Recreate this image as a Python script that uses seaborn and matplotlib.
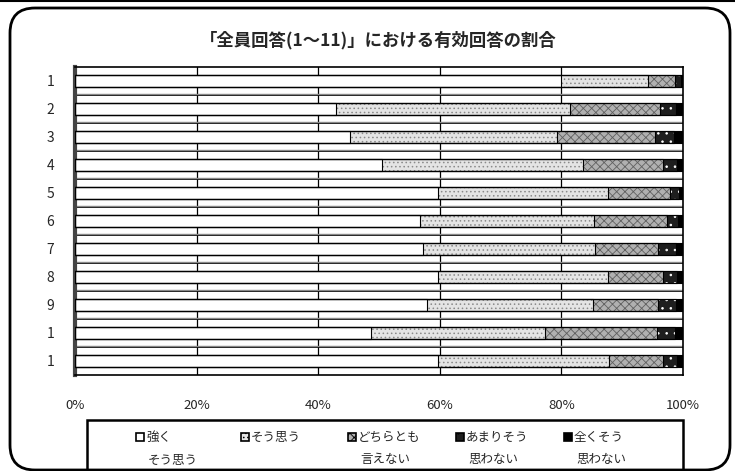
import numpy as np
import pandas as pd
import seaborn as sns
import matplotlib.pyplot as plt
from matplotlib.patches import Rectangle, FancyBboxPatch
from matplotlib.transforms import IdentityTransform

# data (percent of valid answers per question)
questions = ['1', '2', '3', '4', '5', '6', '7', '8', '9', '1', '1']
categories = ['強く\nそう思う', 'そう思う', 'どちらとも\n言えない', 'あまりそう\n思わない', '全くそう\n思わない']
strongly_agree = [80.0, 43.0, 45.2, 50.5, 59.7, 56.7, 57.2, 59.7, 57.9, 48.7, 59.7]
agree = [14.2, 38.4, 34.1, 33.0, 27.9, 28.7, 28.3, 28.0, 27.3, 28.6, 28.1]
neutral = [4.5, 14.8, 16.1, 13.2, 10.2, 12.0, 10.4, 9.0, 10.7, 18.4, 8.9]
disagree = [0.9, 2.6, 3.2, 2.3, 1.5, 1.8, 2.9, 2.3, 2.9, 3.0, 2.3]
strongly_disagree = [0.4, 1.2, 1.4, 1.0, 0.7, 0.8, 1.2, 1.0, 1.2, 1.3, 1.0]
ticks = [0, 20, 40, 60, 80, 100]

# fill, hatch, hatch colour per category
styles = [('white', '', 'white'),
          ('#e4e4e4', '....', '#8a8a8a'),
          ('#b0b0b0', 'xxxx', '#606060'),
          ('#1e1e1e', '..', 'white'),
          ('black', '', 'black')]

df = pd.DataFrame({'row': range(len(questions))})
vals = np.array([strongly_agree, agree, neutral, disagree, strongly_disagree])
cum = np.cumsum(vals, axis=0)
for k in range(len(categories)):
    df[f'c{k}'] = cum[k]

sns.set_style('white')
plt.rcParams['font.family'] = ['Noto Sans CJK JP', 'DejaVu Sans']
plt.rcParams['hatch.linewidth'] = 0.6

fig = plt.figure(figsize=(7.35, 4.71), dpi=100)
ax = fig.add_axes([75 / 735, 1 - 375 / 471, 608 / 735, 308 / 471])

bw = 0.45
# overlay cumulative bars, widest first
for k in reversed(range(len(categories))):
    face, hatch, hc = styles[k]
    n0 = len(ax.patches)
    sns.barplot(data=df, x=f'c{k}', y='row', orient='h', color=face, saturation=1,
                width=bw, linewidth=0, ax=ax, zorder=3)
    for p in ax.patches[n0:]:
        p.set_hatch(hatch)
        p.set_edgecolor(hc)
        p.set_linewidth(0)

# segment outlines
for k in range(len(categories)):
    sns.barplot(data=df, x=f'c{k}', y='row', orient='h', fill=False, color='black',
                width=bw, linewidth=0.8, ax=ax, zorder=4)

for x in ticks[1:-1]:
    ax.axvline(x, color='black', lw=0.9, zorder=1)
for i in range(len(questions) - 1):
    ax.axhline(i + 0.5, color='black', lw=1.3, zorder=1)
    ax.axhline(i + 0.5 - 0.04, color='#888888', lw=1.0, zorder=1)

ax.set_xlim(0, 100)
ax.set_ylim(len(questions) - 0.5, -0.5)
ax.set_xticks(ticks)
ax.set_xticklabels([f'{t}%' for t in ticks], fontsize=9.5)
ax.set_yticks(range(len(questions)))
ax.set_yticklabels(questions, fontsize=10)
ax.tick_params(axis='x', length=0, pad=17)
ax.tick_params(axis='y', length=0, pad=15)
ax.set_xlabel('')
ax.set_ylabel('')
for s in ['top', 'right', 'bottom']:
    ax.spines[s].set_color('black')
    ax.spines[s].set_linewidth(1.2)
ax.spines['left'].set_color('#444444')
ax.spines['left'].set_linewidth(3)

fig.text(0.514, 1 - 40 / 471, '「全員回答(1～11)」における有効回答の割合',
         ha='center', va='center', fontsize=12.5, fontweight='bold')

# legend box with one icon + two-line label per category
fig.add_artist(Rectangle((87, -10), 683 - 87, 471 - 420 + 10,
                         transform=IdentityTransform(), fill=False, lw=1.8, ec='black'))
icon_x = [140, 245, 352, 460, 568]
for k, (lab, (face, hatch, hc)) in enumerate(zip(categories, styles)):
    x0 = icon_x[k]
    icon = Rectangle((x0 - 4, 471 - 437 - 4), 8, 8, transform=IdentityTransform(),
                     facecolor=face, hatch=hatch, edgecolor='black', lw=1.2)
    fig.add_artist(icon)
    lines = lab.split('\n')
    fig.text((x0 + 6) / 735, 1 - 437 / 471, lines[0], ha='left', va='center', fontsize=9)
    if len(lines) > 1:
        fig.text((x0 + 8) / 735, 1 - 460 / 471, lines[1], ha='left', va='center', fontsize=9)

# rounded outer frame
fig.add_artist(FancyBboxPatch((10, 1), 720, 462, boxstyle='round,pad=0,rounding_size=25',
                              transform=IdentityTransform(), fill=False, lw=2, ec='black'))
fig.add_artist(plt.Line2D([0, 1], [0.998, 0.998], transform=fig.transFigure, color='black', lw=1.5))

fig.savefig('out.png', dpi=100)
